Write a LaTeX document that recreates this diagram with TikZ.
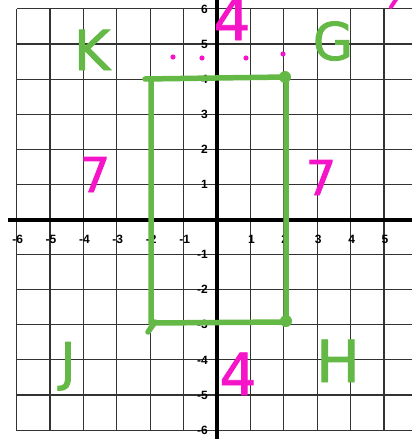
\documentclass[tikz,border=0pt]{standalone}
\usepackage{fontspec}
\setmainfont{Liberation Sans}
\newfontfamily\hand[FakeBold=1.5]{DejaVu Sans}
\definecolor{mk}{RGB}{245,20,200}
\definecolor{gr}{RGB}{100,185,70}
\tikzset{
  gridline/.style={line width=1.1pt, black!80},
  ticklabel/.style={font=\fontsize{12}{12}\selectfont\bfseries, inner sep=0pt},
  handg/.style={text=gr, inner sep=0pt, anchor=base},
  handm/.style={text=mk, inner sep=0pt, anchor=base},
  marker/.style={line width=5.5pt, line cap=round, line join=round},
}
\begin{document}
\begin{tikzpicture}[x=1pt,y=-1pt]
\useasboundingbox (0,0) rectangle (412,439);
\fill[white] (0,0) rectangle (412,439);
% grid
\foreach \i in {-6,...,6} \draw[gridline] ({217+33.4*\i},9) -- ({217+33.4*\i},431);
\foreach \j in {-6,...,6} \draw[gridline] (17,{219.5+35.1*\j}) -- (412,{219.5+35.1*\j});
% axes
\draw[line width=4pt] (8,220) -- (412,220);
\draw[line width=3.5pt] (217,0) -- (217,439);
% tick labels
\foreach \i in {-6,-5,-4,-3,-2,-1,1,2,3,4,5,6}
  \node[ticklabel] (xl\i) at ({217+33.4*\i+1},239) {\i};
\foreach \j in {-6,-5,-4,-3,-2,-1,1,2,3,4,5,6}
  \node[ticklabel, anchor=east] (yl\j) at (208,{219.5-35.1*\j}) {\j};
% green rectangle
\draw[gr, marker] (145,79) -- (286,77) -- (286,322) -- (151,323) -- (151,80);
\draw[gr, marker] (155,322) -- (148,332);
\fill[gr] (285,77) circle (6);
\fill[gr] (286,321) circle (6);
% magenta dots and stroke
\foreach \p in {(173,57),(202,58),(246,58),(283,54)} \fill[mk] \p circle (2.6);
\draw[mk, line width=4pt, line cap=round] (397,-2) -- (391,7);
% handwritten labels
\node[handg, font=\hand\fontsize{55}{55}\selectfont] (K) at (92,70) {K};
\node[handg, font=\hand\fontsize{52}{52}\selectfont] (G) at (333,60) {G};
\node[handg, font=\hand\fontsize{52}{52}\selectfont] (J) at (68,380) {J};
\node[handg, font=\hand\fontsize{58}{58}\selectfont] (H) at (338,382) {H};
\node[handm, font=\hand\fontsize{48}{48}\selectfont] (sevenL) at (95,192) {7};
\node[handm, font=\hand\fontsize{48}{48}\selectfont] (sevenR) at (321,195) {7};
\node[handm, font=\hand\fontsize{58}{58}\selectfont] (fourT) at (232,40) {4};
\node[handm, font=\hand\fontsize{58}{58}\selectfont] (fourB) at (238,395) {4};
\end{tikzpicture}
\end{document}
